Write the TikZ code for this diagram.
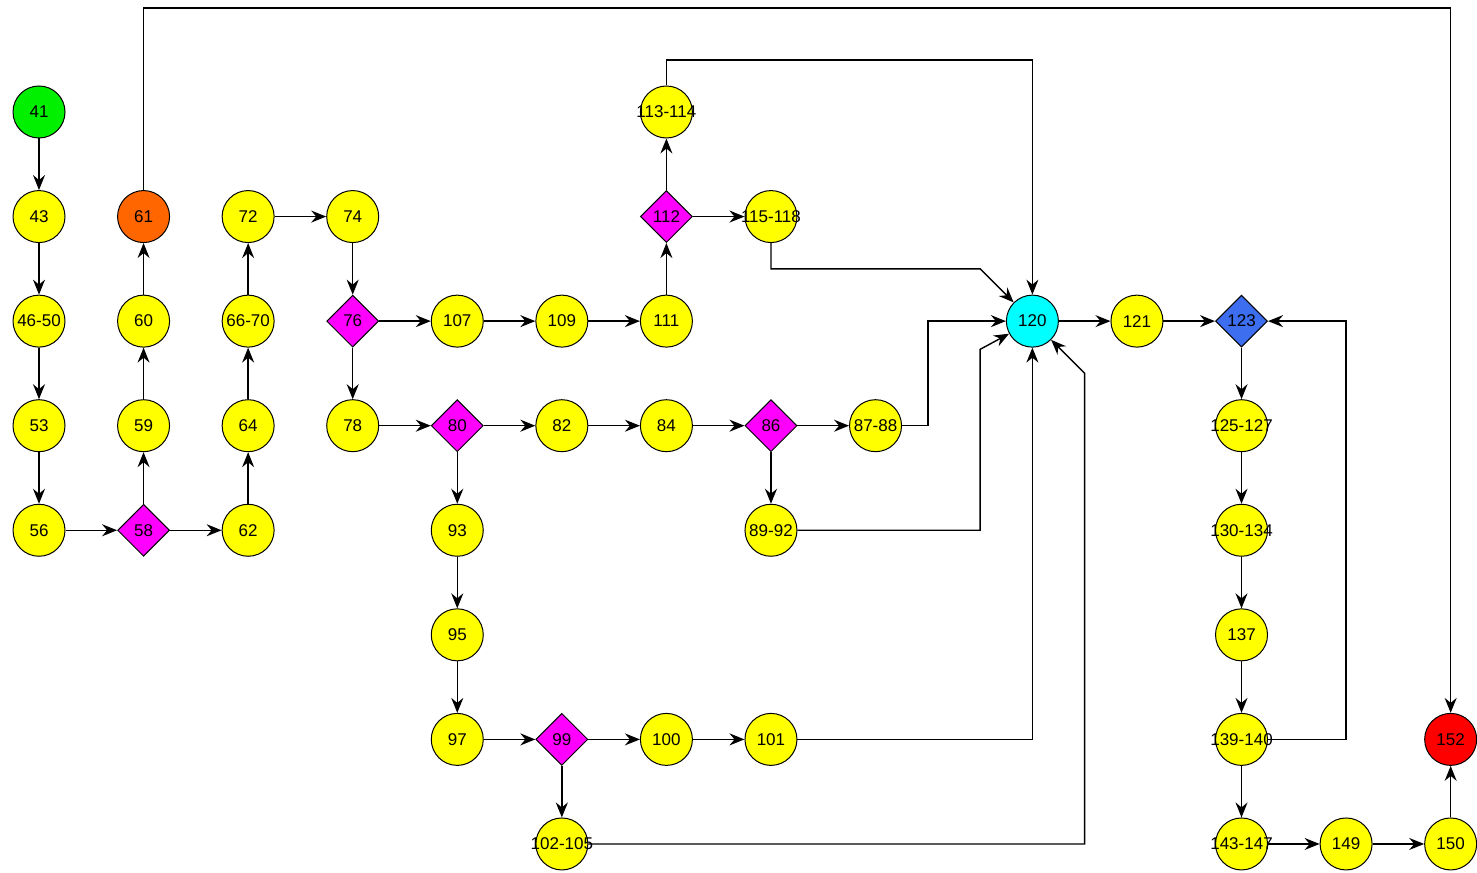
\documentclass[tikz,border=0pt]{standalone}
\usepackage{fontspec}
\setmainfont{Liberation Sans}
\usetikzlibrary{arrows.meta,shapes.geometric}
\definecolor{nodeyellow}{HTML}{FFFF00}
\definecolor{nodegreen}{HTML}{00F000}
\definecolor{nodeorange}{HTML}{FF6600}
\definecolor{nodecyan}{HTML}{00FFFF}
\definecolor{nodered}{HTML}{FF0000}
\definecolor{nodemagenta}{HTML}{FF00FF}
\definecolor{nodeblue}{HTML}{3D6EF0}

\begin{document}
\begin{tikzpicture}[x=104.57pt,y=-104.57pt,font=\fontsize{17}{19}\selectfont,
  >={Stealth[length=15pt,width=12pt,inset=5pt]},
  blk/.style={circle,draw,line width=1pt,minimum size=52pt,inner sep=0pt,fill=nodeyellow},
  start/.style={blk,fill=nodegreen},
  stop/.style={blk,fill=nodered},
  jump/.style={blk,fill=nodeorange},
  hub/.style={blk,fill=nodecyan},
  dec/.style={diamond,draw,line width=1pt,minimum size=52pt,inner sep=0pt,fill=nodemagenta},
  loopdec/.style={dec,fill=nodeblue},
  flow/.style={->,line width=1.4pt}]
\useasboundingbox[fill=white] (-0.373,-1.071) rectangle (13.752,7.277);
\foreach \id/\c/\r/\lab/\sty in {41/0/0/41/start,43/0/1/43/blk,46/0/2/46-50/blk,53/0/3/53/blk,56/0/4/56/blk,
  58/1/4/58/dec,59/1/3/59/blk,60/1/2/60/blk,61/1/1/61/jump,
  62/2/4/62/blk,64/2/3/64/blk,66/2/2/66-70/blk,72/2/1/72/blk,
  74/3/1/74/blk,76/3/2/76/dec,78/3/3/78/blk,
  107/4/2/107/blk,109/5/2/109/blk,111/6/2/111/blk,112/6/1/112/dec,113/6/0/113-114/blk,115/7/1/115-118/blk,
  80/4/3/80/dec,82/5/3/82/blk,84/6/3/84/blk,86/7/3/86/dec,87/8/3/87-88/blk,89/7/4/89-92/blk,
  93/4/4/93/blk,95/4/5/95/blk,97/4/6/97/blk,99/5/6/99/dec,100/6/6/100/blk,101/7/6/101/blk,102/5/7/102-105/blk,
  120/9.5/2/120/hub,121/10.5/2/121/blk,123/11.5/2/123/loopdec,
  125/11.5/3/125-127/blk,130/11.5/4/130-134/blk,137/11.5/5/137/blk,139/11.5/6/139-140/blk,143/11.5/7/143-147/blk,
  149/12.5/7/149/blk,150/13.5/7/150/blk,152/13.5/6/152/stop}
  \node[\sty] (n\id) at (\c,\r) {\makebox[0pt]{\lab}};
% straight connectors
\foreach \a/\b in {41/43,43/46,46/53,53/56,56/58,58/59,59/60,60/61,58/62,62/64,64/66,66/72,72/74,74/76,
  76/107,107/109,109/111,111/112,112/113,112/115,76/78,78/80,80/82,82/84,84/86,86/87,86/89,
  80/93,93/95,95/97,97/99,99/100,100/101,99/102,120/121,121/123,123/125,125/130,130/137,137/139,
  139/143,143/149,149/150,150/152}
  \draw[flow] (n\a) -- (n\b);
% routed connectors
\draw[flow] (n61) |- (13.5,-0.995) -- (n152);
\draw[flow] (n113) |- (9.5,-0.497) -- (n120);
\draw[flow] (n115) |- (9,1.5) -- (n120);
\draw[flow] (n87) -| (8.5,2) -- (n120);
\draw[flow] (n89) -| (9,2.27) -- (n120);
\draw[flow] (n101) -| (n120);
\draw[flow] (n102) -| (10,2.5) -- (n120);
\draw[flow] (n139) -| (12.5,2) -- (n123);
\end{tikzpicture}
\end{document}
